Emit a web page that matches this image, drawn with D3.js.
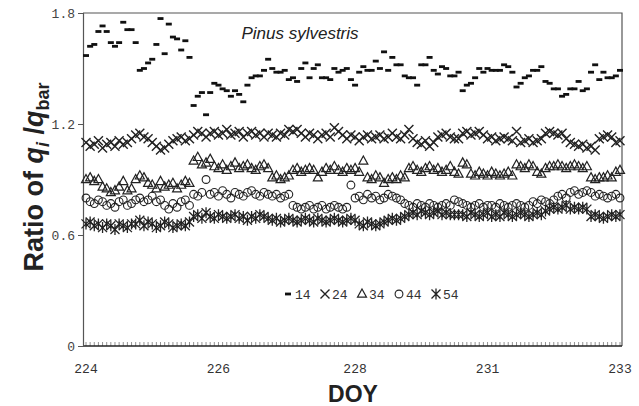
<!DOCTYPE html>
<html>
<head>
<meta charset="utf-8">
<script src="https://cdn.jsdelivr.net/npm/d3@7"></script>
<style>
  body { margin: 0; background: #fff; }
  svg { display: block; }
</style>
</head>
<body>
<svg id="chart" width="639" height="406"></svg>
<script>
// ratio of q_i / q_bar at five heights (cm), Pinus sylvestris, DOY 224-233
const heights = ["14", "24", "34", "44", "54"];

const tickLabels = ["224", "226", "228", "231", "233"];
const tickIndex = [0, 32, 65, 97, 129];

const yTicks = [0, 0.6, 1.2, 1.8];

const s14 = [
  1.57,1.62,1.63,1.70,1.73,1.70,1.64,1.62,1.64,1.75,
  1.71,1.71,1.64,1.49,1.50,1.53,1.55,1.63,1.77,1.58,
  1.74,1.67,1.66,1.60,1.65,1.56,1.30,1.35,1.37,1.25,
  1.37,1.42,1.41,1.39,1.38,1.35,1.38,1.36,1.32,1.41,
  1.45,1.46,1.46,1.49,1.55,
  1.50,1.48,1.48,1.49,1.44,1.45,1.43,1.50,1.53,1.45,
  1.50,1.52,1.45,1.45,1.44,1.50,1.48,1.49,1.50,1.44,
  1.41,1.48,1.51,1.49,1.49,1.54,1.50,1.59,1.49,1.56,1.52,
  1.52,1.46,1.45,1.45,1.41,1.52,1.52,1.56,1.49,1.47,
  1.51,1.50,1.46,1.46,1.48,1.38,1.41,1.42,1.45,1.50,
  1.48,1.50,1.49,1.49,1.49,1.52,1.51,1.48,1.40,1.42,
  1.45,1.46,1.49,1.49,1.51,1.43,1.42,1.39,1.39,1.35,
  1.36,1.39,1.39,1.43,1.38,1.39,1.48,1.52,1.44,1.48,
  1.45,1.45,1.46,1.49
];

const s24 = [
  1.10,1.08,1.09,1.11,1.07,1.09,1.10,1.08,1.11,1.09,1.10,1.12,
  1.14,1.15,1.13,1.12,1.10,
  1.08,1.06,1.07,1.09,
  1.11,1.12,1.13,1.11,1.12,
  1.14,1.16,1.15,1.13,1.15,1.16,1.14,1.15,1.17,1.14,1.15,1.16,1.13,1.15,1.16,1.14,1.15,1.13,1.15,
  1.14,1.13,1.15,1.14,
  1.17,1.16,1.17,1.15,
  1.13,1.15,1.14,1.12,1.14,1.15,1.13,
  1.18,1.16,1.14,
  1.12,1.14,1.13,1.11,1.13,1.14,1.12,
  1.13,1.14,1.12,1.13,1.15,1.13,1.12,1.14,
  1.17,
  1.12,1.10,1.09,1.11,1.08,1.10,
  1.13,1.14,1.15,1.13,
  1.12,1.12,
  1.15,1.16,1.14,1.15,1.16,1.14,
  1.12,1.13,1.11,1.12,1.13,1.12,1.11,
  1.16,
  1.10,1.11,1.12,1.10,1.11,1.12,
  1.15,1.16,1.15,1.14,1.15,
  1.12,1.10,1.09,1.08,1.09,1.07,1.08,1.06,
  1.12,1.13,1.14,1.13,
  1.10,1.11
];

const s34 = [
  0.90,0.91,0.89,0.90,
  0.86,0.85,0.83,0.84,0.86,0.89,0.84,0.85,
  0.90,0.92,0.91,0.88,
  0.87,0.85,0.89,0.86,0.87,0.88,0.85,0.87,0.89,0.88,
  1.00,1.02,0.98,0.99,1.01,
  0.97,0.96,0.98,0.95,0.97,0.99,0.96,0.97,0.98,0.96,0.95,0.97,0.98,0.96,
  0.91,0.92,0.90,0.91,0.92,
  0.95,0.96,0.94,0.95,0.96,0.95,0.91,0.94,0.96,0.95,0.97,0.95,0.94,0.96,0.95,0.96,0.94,
  1.00,
  0.91,0.90,0.92,0.91,0.88,0.90,0.91,0.90,0.92,0.91,
  0.96,0.97,0.95,0.94,0.96,0.97,0.95,0.96,0.94,0.95,0.97,
  0.94,0.93,
  0.99,0.98,
  0.93,0.92,0.94,0.93,0.92,0.94,0.93,0.92,0.93,0.94,0.92,
  0.98,0.97,0.96,0.98,0.97,
  0.94,0.93,
  0.96,0.97,0.97,0.98,0.97,0.96,0.97,0.98,0.97,0.96,0.97,
  0.91,0.90,0.91,0.91,0.92,0.91,
  0.94,0.95
];

const s44 = [
  0.80,0.78,0.77,0.79,0.78,
  0.76,0.77,0.75,0.78,0.79,0.76,0.77,
  0.79,0.80,0.78,0.79,0.81,0.78,0.79,
  0.76,0.74,0.77,0.75,0.78,0.79,0.76,
  0.82,0.81,0.83,0.90,0.82,0.83,0.81,0.84,0.82,0.80,0.83,0.82,0.81,0.83,0.84,0.82,0.81,0.83,0.82,
  0.81,0.82,0.80,0.81,0.82,
  0.76,0.75,0.74,0.75,0.76,0.74,0.75,0.76,0.74,0.75,0.76,0.75,0.74,0.75,
  0.87,
  0.80,0.81,0.79,0.82,0.80,0.81,0.79,0.80,0.82,0.81,0.80,0.79,
  0.77,0.76,0.75,0.77,0.76,0.75,0.77,0.76,0.75,0.76,0.77,0.76,
  0.79,0.78,0.77,
  0.76,0.75,0.76,0.77,0.75,0.76,0.76,0.75,0.77,0.76,0.75,0.76,0.77,0.76,0.75,0.76,
  0.78,0.77,0.79,0.78,0.77,0.79,
  0.81,0.82,0.80,0.83,0.84,0.82,0.83,0.84,0.83,0.81,0.82,
  0.81,0.80,0.81,0.82,0.80
];

const s54 = [
  0.66,0.67,0.65,0.66,0.64,0.66,0.65,0.63,0.66,0.65,0.64,0.66,
  0.66,0.68,0.65,0.67,0.66,0.64,0.65,0.67,0.66,0.64,0.65,0.66,0.65,0.67,
  0.70,0.71,0.69,0.72,0.70,0.69,0.71,0.70,0.69,0.70,0.71,0.69,0.70,0.68,0.70,0.69,0.71,0.70,0.69,
  0.68,0.69,0.67,0.68,0.69,0.68,0.67,0.68,0.69,0.68,0.67,0.69,0.68,0.67,0.68,0.69,0.68,0.67,0.68,0.69,0.68,
  0.66,0.65,0.67,0.66,0.65,0.66,0.67,
  0.68,0.69,0.68,0.69,0.70,
  0.71,0.72,0.71,0.73,0.72,0.71,0.72,0.73,0.71,0.72,0.71,
  0.71,0.71,
  0.71,0.70,0.72,0.71,0.70,0.71,0.72,0.70,0.71,0.70,0.72,0.71,0.70,0.71,0.72,0.71,0.70,0.71,0.72,0.71,
  0.73,0.74,0.75,0.74,0.75,0.76,0.74,0.75,0.74,0.75,0.74,
  0.70,0.71,0.70,0.69,0.70,0.71,0.70,0.71
];

const seriesValues = [s14, s24, s34, s44, s54];

const margin = { top: 13, left: 83, right: 17, bottom: 60 };
const W = 639, H = 406;
const plotRight = W - margin.right;
const plotBottom = H - margin.bottom;

const svg = d3.select("#chart");

const n = s14.length;
const x = d3.scaleLinear().domain([0, n - 1]).range([86, 620]);
const y = d3.scaleLinear().domain([0, 1.8]).range([plotBottom, margin.top]);

const monoFont = "'Liberation Mono', 'DejaVu Sans Mono', monospace";
const sansFont = "'Liberation Sans', Arial, sans-serif";

// frame (top + right)
svg.append("path")
  .attr("d", `M${margin.left},${margin.top}H${plotRight}V${plotBottom}`)
  .attr("fill", "none")
  .attr("stroke", "#555")
  .attr("stroke-width", 1.2);

// minor ticks on the category axis, one per sample
svg.append("g")
  .selectAll("line")
  .data(d3.range(n))
  .join("line")
  .attr("x1", d => x(d))
  .attr("x2", d => x(d))
  .attr("y1", plotBottom)
  .attr("y2", plotBottom - 4)
  .attr("stroke", "#777")
  .attr("stroke-width", 0.8);

// x axis line + labels
svg.append("line")
  .attr("x1", margin.left).attr("x2", plotRight)
  .attr("y1", plotBottom).attr("y2", plotBottom)
  .attr("stroke", "#222").attr("stroke-width", 1.3);

svg.append("g")
  .selectAll("text")
  .data(tickIndex)
  .join("text")
  .attr("x", d => x(d))
  .attr("y", 373)
  .attr("text-anchor", "middle")
  .attr("font-family", monoFont)
  .attr("font-size", 13)
  .attr("fill", "#333")
  .text((d, i) => tickLabels[i]);

// y axis
const yAxis = d3.axisLeft(y)
  .tickValues(yTicks)
  .tickSize(5)
  .tickPadding(3)
  .tickFormat(d => d === 0 ? "0" : d3.format(".1f")(d));

const gy = svg.append("g")
  .attr("transform", `translate(${margin.left},0)`)
  .call(yAxis);

gy.select(".domain").attr("stroke", "#555").attr("stroke-width", 1.2);
gy.selectAll(".tick line").attr("stroke", "#555");
gy.selectAll(".tick text")
  .attr("font-family", monoFont)
  .attr("font-size", 13)
  .attr("fill", "#444");

// markers
const markerDraw = [
  // 14: filled dash
  (g) => g.append("rect").attr("x", -3).attr("y", -1.4).attr("width", 6).attr("height", 2.8).attr("fill", "#111"),
  // 24: cross
  (g) => g.append("path").attr("d", "M-4.5,-4.5L4.5,4.5M-4.5,4.5L4.5,-4.5").attr("stroke", "#222").attr("stroke-width", 1.4).attr("fill", "none"),
  // 34: open triangle
  (g) => g.append("path").attr("d", "M0,-5L4.5,3.2L-4.5,3.2Z").attr("stroke", "#222").attr("stroke-width", 1.2).attr("fill", "none"),
  // 44: open circle
  (g) => g.append("circle").attr("r", 3.9).attr("stroke", "#222").attr("stroke-width", 1.1).attr("fill", "none"),
  // 54: asterisk
  (g) => g.append("path").attr("d", "M-4.5,-4.5L4.5,4.5M-4.5,4.5L4.5,-4.5M0,-5.5V5.5").attr("stroke", "#222").attr("stroke-width", 1.3).attr("fill", "none")
];

seriesValues.forEach((vals, k) => {
  const g = svg.append("g").attr("class", `series-${heights[k]}`);
  g.selectAll("g")
    .data(vals)
    .join("g")
    .attr("transform", (d, i) => `translate(${x(i)},${y(d)})`)
    .each(function () { markerDraw[k](d3.select(this)); });
});

// species label
svg.append("text")
  .attr("x", 300).attr("y", 39)
  .attr("text-anchor", "middle")
  .attr("font-family", sansFont)
  .attr("font-style", "italic")
  .attr("font-size", 17)
  .attr("fill", "#222")
  .text("Pinus sylvestris");

// legend
const legendX = [288, 325, 362, 399, 436];
const legend = svg.append("g");
heights.forEach((h, k) => {
  const item = legend.append("g").attr("transform", `translate(${legendX[k]},294)`);
  markerDraw[k](item);
  item.append("text")
    .attr("x", 7).attr("y", 4.5)
    .attr("font-family", monoFont)
    .attr("font-size", 13)
    .attr("fill", "#333")
    .text(h);
});

// axis titles
svg.append("text")
  .attr("x", 353).attr("y", 402)
  .attr("text-anchor", "middle")
  .attr("font-family", sansFont)
  .attr("font-weight", "bold")
  .attr("font-size", 23)
  .attr("fill", "#222")
  .text("DOY");

const yt = svg.append("text")
  .attr("transform", "translate(43,177) rotate(-90)")
  .attr("text-anchor", "middle")
  .attr("font-family", sansFont)
  .attr("font-weight", "bold")
  .attr("font-size", 27)
  .attr("fill", "#222");
yt.append("tspan").text("Ratio of ");
yt.append("tspan").attr("font-style", "italic").text("q");
yt.append("tspan").attr("font-style", "italic").attr("font-size", 18).attr("dy", 6).text("i");
yt.append("tspan").attr("dy", -6).text(" /");
yt.append("tspan").attr("font-style", "italic").text("q");
yt.append("tspan").attr("font-size", 18).attr("dy", 6).text("bar");
</script>
</body>
</html>
